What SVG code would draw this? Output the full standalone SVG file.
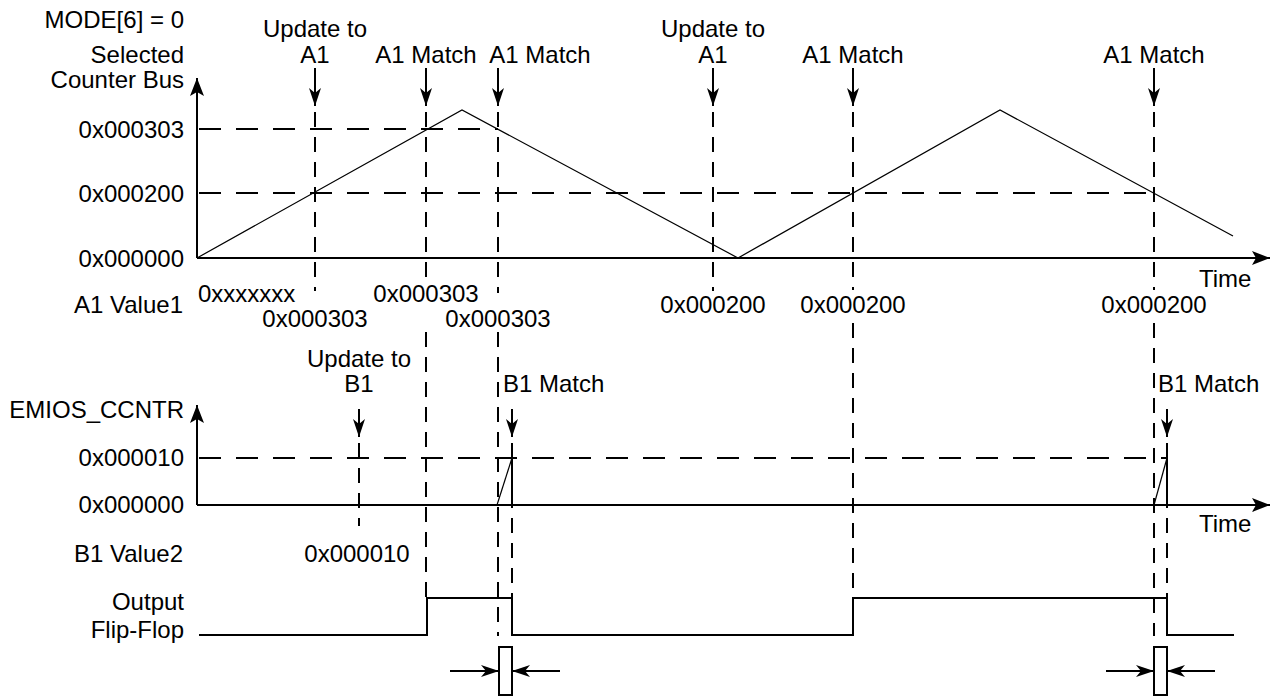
<svg xmlns="http://www.w3.org/2000/svg" width="1275" height="696" viewBox="0 0 1275 696">
<style>
.t{font-family:"Liberation Sans",Arial,sans-serif;font-size:24px;fill:#000}
.r{text-anchor:end}
.m{text-anchor:middle}
.ax{stroke:#000;stroke-width:2;fill:none}
.hd{stroke:#000;stroke-width:2;stroke-dasharray:22 15;fill:none}
.vd{stroke:#000;stroke-width:2;stroke-dasharray:15 10;fill:none}
.w{stroke:#000;stroke-width:1.2;fill:none}
.ff{stroke:#000;stroke-width:2;fill:none}
.ar{stroke:#000;stroke-width:2;fill:none}
</style>
<defs>
<marker id="ah" markerUnits="userSpaceOnUse" markerWidth="20" markerHeight="16" refX="18" refY="7" orient="auto" viewBox="0 0 20 14">
<path d="M0,0 L18,7 L0,14 L4,7 Z" fill="#000"/>
</marker>
<marker id="ahs" markerUnits="userSpaceOnUse" markerWidth="20" markerHeight="14" refX="18" refY="6" orient="auto" viewBox="0 0 20 12">
<path d="M0,0 L18,6 L0,12 L5,6 Z" fill="#000"/>
</marker>
</defs>

<g id="axes">
<line class="ax" x1="197" y1="258" x2="197" y2="78" marker-end="url(#ah)"/>
<line class="ax" x1="197" y1="258" x2="1270" y2="258" marker-end="url(#ah)"/>
<line class="ax" x1="197" y1="505" x2="197" y2="405" marker-end="url(#ah)"/>
<line class="ax" x1="197" y1="505" x2="1270" y2="505" marker-end="url(#ah)"/>
</g>

<g id="grid">
<line class="hd" x1="199" y1="129" x2="498" y2="129"/>
<line class="hd" x1="199" y1="193" x2="1155" y2="193"/>
<line class="hd" x1="199" y1="458" x2="1167" y2="458"/>
<line class="vd" x1="315" y1="112" x2="315" y2="291"/>
<line class="vd" x1="426" y1="112" x2="426" y2="280"/>
<line class="vd" x1="426" y1="332" x2="426" y2="598"/>
<line class="vd" x1="498" y1="112" x2="498" y2="293"/>
<line class="vd" x1="498" y1="332" x2="498" y2="636"/>
<line class="vd" x1="713" y1="112" x2="713" y2="291"/>
<line class="vd" x1="853" y1="112" x2="853" y2="290"/>
<line class="vd" x1="853" y1="323" x2="853" y2="598"/>
<line class="vd" x1="1154" y1="112" x2="1154" y2="290"/>
<line class="vd" x1="1154" y1="323" x2="1154" y2="636"/>
<line class="vd" x1="359" y1="443" x2="359" y2="526"/>
<line class="vd" x1="512" y1="443" x2="512" y2="598"/>
<line class="vd" x1="1167" y1="443" x2="1167" y2="598"/>
</g>

<g id="counter-bus-wave">
<polyline class="w" points="197,258 462,110 738,258 1000,110 1233,236"/>
</g>

<g id="ccntr-wave">
<polyline class="w" points="497,505 512,458"/>
<line class="ff" x1="512" y1="458" x2="512" y2="505"/>
<polyline class="w" points="1154,505 1167,458"/>
<line class="ff" x1="1167" y1="458" x2="1167" y2="505"/>
</g>

<g id="flip-flop-wave">
<polyline class="ff" points="199,635 427,635 427,598 512,598 512,635 853,635 853,598 1167,598 1167,635 1234,635"/>
</g>

<g id="event-arrows">
<line class="ar" x1="315" y1="68" x2="315" y2="106" marker-end="url(#ahs)"/>
<line class="ar" x1="426" y1="68" x2="426" y2="106" marker-end="url(#ahs)"/>
<line class="ar" x1="498" y1="68" x2="498" y2="106" marker-end="url(#ahs)"/>
<line class="ar" x1="713" y1="68" x2="713" y2="106" marker-end="url(#ahs)"/>
<line class="ar" x1="853" y1="68" x2="853" y2="106" marker-end="url(#ahs)"/>
<line class="ar" x1="1154" y1="68" x2="1154" y2="106" marker-end="url(#ahs)"/>
<line class="ar" x1="359" y1="409" x2="359" y2="437" marker-end="url(#ahs)"/>
<line class="ar" x1="512" y1="409" x2="512" y2="437" marker-end="url(#ahs)"/>
<line class="ar" x1="1167" y1="409" x2="1167" y2="437" marker-end="url(#ahs)"/>
</g>

<g id="delay-marker-1">
<rect x="499" y="647" width="13" height="48" fill="#fff" stroke="#000" stroke-width="2"/>
<line class="ar" x1="450" y1="671" x2="499" y2="671" marker-end="url(#ahs)"/>
<line class="ar" x1="560" y1="671" x2="512" y2="671" marker-end="url(#ahs)"/>
</g>
<g id="delay-marker-2">
<rect x="1154" y="647" width="13" height="48" fill="#fff" stroke="#000" stroke-width="2"/>
<line class="ar" x1="1106" y1="671" x2="1154" y2="671" marker-end="url(#ahs)"/>
<line class="ar" x1="1215" y1="671" x2="1167" y2="671" marker-end="url(#ahs)"/>
</g>

<g id="labels">
<text class="t r" x="184" y="28">MODE[6] = 0</text>
<text class="t r" x="184" y="63">Selected</text>
<text class="t r" x="184" y="88">Counter Bus</text>
<text class="t r" x="184" y="138">0x000303</text>
<text class="t r" x="184" y="202">0x000200</text>
<text class="t r" x="184" y="267">0x000000</text>
<text class="t r" x="183" y="313">A1 Value1</text>
<text class="t r" x="184" y="418">EMIOS_CCNTR</text>
<text class="t r" x="184" y="466">0x000010</text>
<text class="t r" x="184" y="513">0x000000</text>
<text class="t r" x="183" y="562">B1 Value2</text>
<text class="t r" x="184" y="610">Output</text>
<text class="t r" x="184" y="638">Flip-Flop</text>

<text class="t m" x="315" y="37">Update to</text>
<text class="t m" x="315" y="63">A1</text>
<text class="t m" x="426" y="63">A1 Match</text>
<text class="t m" x="540" y="63">A1 Match</text>
<text class="t m" x="713" y="37">Update to</text>
<text class="t m" x="713" y="63">A1</text>
<text class="t m" x="853" y="63">A1 Match</text>
<text class="t m" x="1154" y="63">A1 Match</text>

<text class="t" x="1199" y="287">Time</text>
<text class="t" x="1199" y="532">Time</text>

<text class="t" x="198" y="302">0xxxxxxx</text>
<text class="t m" x="315" y="327">0x000303</text>
<text class="t m" x="426" y="302">0x000303</text>
<text class="t m" x="498" y="327">0x000303</text>
<text class="t m" x="713" y="313">0x000200</text>
<text class="t m" x="853" y="313">0x000200</text>
<text class="t m" x="1154" y="313">0x000200</text>

<text class="t m" x="359" y="367">Update to</text>
<text class="t m" x="359" y="392">B1</text>
<text class="t" x="503" y="392">B1 Match</text>
<text class="t" x="1158" y="392">B1 Match</text>
<text class="t m" x="357" y="562">0x000010</text>
</g>
</svg>
